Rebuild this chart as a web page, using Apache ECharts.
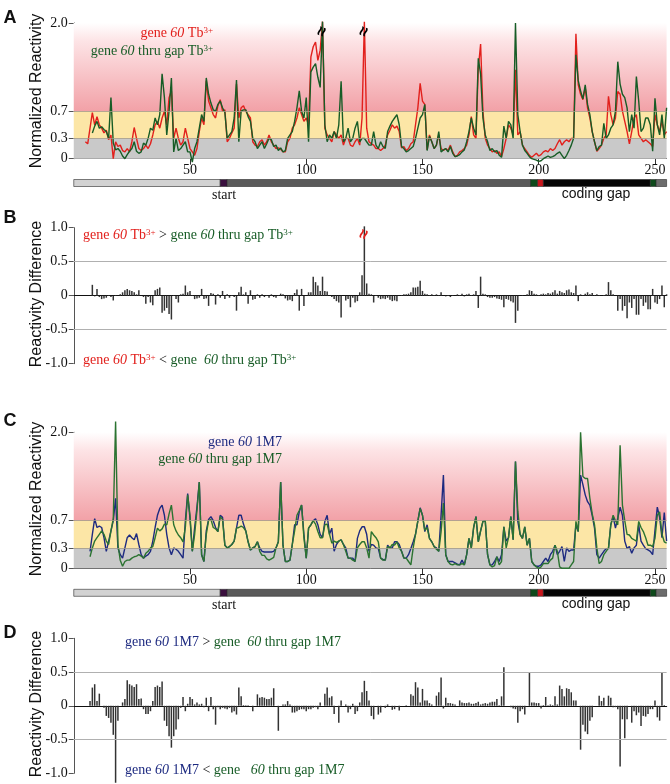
<!DOCTYPE html>
<html><head><meta charset="utf-8">
<script src="https://cdn.jsdelivr.net/npm/echarts@6/dist/echarts.min.js"></script>
<style>html,body{margin:0;padding:0;background:#fff}#c{width:670px;height:784px}</style>
</head><body><div id="c"></div>
<script>
// ---------- DATA ----------
const tbGene60Start = 5;
const tbGene60 = [
0.25,0.22,0.45,0.68,0.5,0.62,0.5,0.45,0.38,0.42,0.28,0.35,0.0,0.25,0.18,0.2,
0.12,0.1,0.15,0.1,0.25,0.46,0.3,0.15,0.12,0.15,0.2,0.15,0.22,0.35,0.5,0.55,0.45,0.6,0.7,0.5,
0.9,1.0,0.3,0.45,0.3,0.2,0.25,0.45,0.3,0.15,0.1,0.05,0.15,0.4,0.6,0.5,1.15,0.85,0.75,0.65,
0.6,0.78,0.87,0.7,0.72,0.25,0.3,0.38,0.45,1.1,0.6,0.75,0.78,0.7,0.65,0.6,0.25,0.2,0.18,0.25,
0.28,0.2,0.25,0.35,0.25,0.2,0.15,0.16,0.14,0.1,0.1,0.25,0.3,0.45,0.5,0.6,0.75,0.65,0.55,0.6,
0.5,1.5,1.65,1.72,1.45,1.6,2.02,0.45,0.35,0.3,0.25,0.4,0.35,0.3,0.35,0.2,0.3,0.3,0.2,0.18,
0.25,0.3,0.2,0.6,2.02,0.45,0.25,0.22,0.2,0.15,0.15,0.12,0.15,0.2,0.35,0.42,0.5,0.45,0.48,0.4,
0.16,0.18,0.12,0.15,0.22,0.25,0.5,0.75,1.11,0.85,0.8,0.13,0.35,0.25,0.15,0.2,0.35,0.15,0.12,0.15,
0.12,0.2,0.1,0.03,0.05,0.1,0.12,0.15,0.2,0.35,0.62,0.35,0.3,1.33,1.69,0.7,0.3,0.2,0.15,0.1,
0.12,0.08,0.1,0.03,0.15,0.3,0.5,0.45,0.35,1.31,0.35,0.4,0.2,0.15,0.1,0.05,0.02,0.05,0.08,0.04,
0.06,0.1,0.12,0.1,0.15,0.12,0.15,0.22,0.28,0.2,0.25,0.28,0.25,0.3,0.3,1.84,1.09,0.95,0.87,1.05,
0.75,0.6,0.4,0.25,0.11,0.15,0.2,0.3,0.35,0.92,0.65,0.5,0.6,0.99,0.95,0.7,0.55,0.4,0.22,0.4,
0.6,0.65,0.35,0.3,0.25,0.28,0.25,0.22,0.18,0.65,0.5,0.4,0.55,0.35,0.4];

const tbThruGapStart = 8;
const tbThruGap = [
0.38,0.48,0.55,0.45,0.47,0.43,0.4,0.3,0.9,0.23,0.13,0.15,0.11,
0.04,0.0,0.06,0.11,0.15,0.25,0.11,0.08,0.1,0.23,0.2,0.3,0.45,0.42,0.6,0.5,0.65,1.25,0.9,0.35,
0.7,1.19,0.1,0.3,0.12,0.15,0.2,0.25,0.1,0.1,-0.05,0.15,0.25,0.45,0.65,0.55,1.19,0.95,0.82,0.72,
0.7,0.8,0.85,0.75,0.68,0.3,0.35,0.4,0.6,1.16,0.25,0.7,0.72,0.72,0.62,0.55,0.3,0.25,0.15,0.2,
0.25,0.15,0.22,0.3,0.28,0.18,0.2,0.12,0.16,0.1,0.12,0.3,0.35,0.4,0.55,0.75,1.0,0.7,0.6,0.9,
0.25,1.28,1.35,1.4,1.2,1.05,2.02,0.5,0.25,0.35,0.3,0.4,0.3,0.5,1.14,0.25,0.3,0.45,0.25,0.3,
0.45,0.55,0.25,0.3,0.3,0.25,0.2,0.2,0.4,0.2,0.15,0.25,0.18,0.15,0.4,0.48,0.55,0.6,0.65,0.5,
0.18,0.15,0.1,0.12,0.15,0.18,0.3,0.45,0.6,0.65,0.8,0.12,0.33,0.25,0.15,0.2,0.4,0.1,0.13,0.15,
0.1,0.18,0.08,0.03,0.04,0.06,0.1,0.13,0.25,0.4,0.6,0.45,0.35,1.48,1.25,0.6,0.35,0.25,0.12,0.15,
0.1,0.12,0.05,0.02,0.48,0.3,0.55,0.5,0.3,2.0,0.65,0.4,0.2,0.12,0.08,0.03,0.0,-0.01,-0.02,-0.04,
-0.03,0.0,0.02,0.04,0.02,0.03,0.05,0.08,0.1,0.05,0.0,0.05,0.12,0.2,0.3,1.53,1.15,1.0,0.88,1.09,
0.8,0.65,0.4,0.25,0.12,0.18,0.2,0.52,0.3,0.35,0.45,0.5,0.7,1.43,1.1,0.95,0.9,0.75,0.4,0.65,
0.45,1.21,0.85,0.4,0.45,0.6,0.6,0.5,0.11,0.89,0.5,0.35,0.65,0.3,0.75];

const tbDiffStart = 8;
const tbDiff = [
0.16,-0.01,0.1,-0.02,-0.05,-0.04,-0.03,0.01,-0.02,-0.07,0.01,0.0,0.02,
0.05,0.08,0.1,0.08,0.07,0.05,0.02,0.08,0.0,-0.02,-0.12,-0.02,-0.1,-0.14,0.08,0.1,0.12,-0.25,-0.22,-0.18,
-0.27,-0.35,0.01,-0.05,-0.1,0.02,0.03,0.15,0.05,0.07,0.01,-0.05,-0.04,-0.03,0.1,-0.05,-0.04,-0.15,0.04,0.03,
-0.13,0.02,-0.03,0.07,-0.05,0.02,-0.03,0.01,-0.02,-0.22,0.05,0.13,0.02,0.05,-0.12,0.08,-0.06,-0.05,0.02,-0.03,
0.02,-0.02,0.01,-0.03,0.02,-0.02,-0.03,0.01,0.03,0.02,-0.04,-0.07,-0.06,-0.08,0.04,0.09,-0.22,0.1,-0.15,0.0,
0.05,0.05,0.28,0.2,0.15,0.07,0.28,0.07,0.06,0.0,-0.02,-0.05,-0.08,-0.1,-0.32,0.0,-0.07,-0.05,-0.17,-0.03,
-0.1,-0.08,0.05,0.3,1.02,0.18,0.03,0.02,-0.1,0.01,-0.03,-0.05,-0.04,-0.05,-0.03,-0.06,-0.08,-0.07,-0.08,0.0,
0.01,0.02,0.02,0.03,0.05,0.12,0.12,0.13,0.22,0.07,0.03,0.02,0.01,0.02,0.01,0.02,0.01,0.05,0.0,-0.01,
0.01,-0.02,0.01,0.0,0.02,0.01,0.03,-0.01,0.02,0.03,0.01,0.02,0.07,-0.18,0.28,0.03,0.02,-0.02,-0.03,-0.03,
-0.02,-0.04,-0.05,-0.06,-0.17,-0.05,-0.06,-0.08,-0.1,-0.4,-0.22,0.0,0.01,0.0,0.02,0.08,0.07,0.03,0.02,0.01,
0.02,0.03,0.02,0.04,0.03,0.05,0.08,0.03,0.07,0.05,0.04,0.08,0.09,0.05,0.04,0.15,-0.08,0.02,0.01,0.03,
0.05,0.02,0.04,0.01,0.02,0.01,0.0,0.01,0.02,0.2,0.08,0.02,0.0,-0.22,-0.05,-0.22,-0.15,-0.33,-0.1,-0.18,
-0.05,-0.28,-0.28,-0.05,-0.15,-0.1,-0.2,-0.2,0.1,-0.1,-0.12,-0.05,0.15,-0.17,0.02];

const m7Gene60Start = 7;
const m7Gene60 = [
0.25,0.5,0.73,0.6,0.62,0.6,0.45,0.25,0.4,0.55,0.7,1.03,0.3,0.2,
0.15,0.3,0.45,0.49,0.45,0.42,0.51,0.35,0.2,0.15,0.18,0.2,0.25,0.4,0.6,0.78,0.88,0.93,0.78,0.5,
0.3,0.2,0.3,0.28,0.25,0.2,0.15,0.7,1.1,0.73,0.25,0.6,0.9,1.27,0.2,0.1,0.55,0.72,0.76,0.7,
0.6,0.54,0.78,0.75,0.34,0.3,0.32,0.35,0.4,0.59,0.78,0.78,0.65,0.55,0.39,0.27,0.3,0.32,0.39,0.3,
0.25,0.24,0.24,0.24,0.24,0.25,0.3,0.39,1.27,0.34,0.1,0.1,0.12,0.35,0.64,0.64,0.83,0.93,0.5,0.15,
0.59,0.64,0.7,0.73,0.64,0.5,0.45,0.69,0.78,0.5,0.59,0.25,0.35,0.4,0.42,0.35,0.3,0.15,0.15,0.15,
0.1,0.44,0.55,0.61,0.61,0.5,0.25,0.35,0.34,0.3,0.29,0.15,0.13,0.12,0.34,0.3,0.3,0.39,0.39,0.35,
0.25,0.15,0.15,0.2,0.29,0.39,0.5,0.69,0.89,0.78,0.54,0.64,0.44,0.39,0.32,0.3,0.25,0.78,1.37,0.2,
0.1,0.1,0.1,0.08,0.06,0.05,0.12,0.05,0.2,0.44,0.3,0.6,0.76,0.39,0.55,0.69,0.7,0.2,0.05,0.05,
0.1,0.17,0.1,0.2,0.61,0.4,0.45,0.76,0.42,1.57,0.69,0.5,0.44,0.61,0.34,0.44,0.1,0.05,0.03,0.03,
0.05,0.1,0.15,0.1,0.2,0.25,0.34,0.2,0.25,0.32,0.1,0.3,0.25,0.27,0.27,0.64,0.54,1.37,1.23,1.08,
0.98,0.93,0.78,0.59,0.2,0.15,0.2,0.25,0.29,0.29,0.64,0.76,0.59,0.74,0.9,0.78,0.4,0.29,0.32,0.22,
0.3,0.34,0.64,0.4,0.34,0.29,0.27,0.25,0.2,0.56,0.9,0.75,0.45,0.82,0.4];

const m7ThruGapStart = 7;
const m7ThruGap = [
0.17,0.3,0.4,0.45,0.5,0.55,0.5,0.4,0.35,0.55,0.73,2.16,0.35,0.12,
0.03,0.1,0.12,0.12,0.15,0.17,0.18,0.2,0.18,0.15,0.22,0.25,0.3,0.32,0.45,0.59,0.55,0.58,0.65,0.64,
0.8,0.93,0.64,0.55,0.49,0.45,0.39,0.6,1.08,0.78,0.25,0.5,0.85,1.27,0.2,0.1,0.5,0.7,0.72,0.6,
0.58,0.54,0.76,0.72,0.34,0.3,0.32,0.35,0.4,0.59,0.6,0.62,0.6,0.55,0.39,0.27,0.3,0.32,0.39,0.25,
0.19,0.19,0.14,0.12,0.14,0.16,0.3,0.39,1.27,0.34,0.1,0.1,0.12,0.35,0.55,0.78,0.85,0.93,0.45,0.15,
0.59,0.64,0.7,0.65,0.54,0.45,0.45,0.64,0.65,0.5,0.37,0.4,0.38,0.4,0.42,0.35,0.25,0.15,0.15,0.12,
0.1,0.3,0.35,0.39,0.39,0.3,0.15,0.54,0.49,0.45,0.39,0.15,0.12,0.12,0.32,0.3,0.35,0.34,0.39,0.3,
0.25,0.15,0.15,0.1,0.05,0.3,0.5,0.7,0.88,0.78,0.56,0.6,0.44,0.39,0.32,0.28,0.25,0.54,0.96,0.2,
0.1,0.06,0.05,0.07,0.05,0.05,0.07,0.05,0.2,0.44,0.3,0.6,0.76,0.39,0.55,0.69,0.7,0.2,0.05,0.02,
0.04,0.17,0.05,0.1,0.61,0.3,0.45,0.76,0.42,1.57,0.84,0.5,0.44,0.61,0.34,0.44,0.1,0.05,0.02,0.0,
0.02,0.07,0.07,0.07,0.12,0.15,0.34,0.25,0.02,0.0,0.0,0.0,0.0,0.05,0.1,0.69,0.54,2.0,1.35,1.32,
1.32,1.03,0.8,0.64,0.3,0.07,0.1,0.2,0.25,0.3,0.64,0.78,0.7,0.64,1.81,0.93,0.7,0.5,0.49,0.44,
0.42,0.4,0.69,0.6,0.54,0.45,0.34,0.34,0.32,0.44,0.78,0.83,0.5,0.39,0.37];

const m7DiffStart = 7;
const m7Diff = [
0.07,0.27,0.32,0.07,0.18,0.0,-0.03,-0.15,-0.18,-0.25,-0.43,-1.14,-0.22,0.0,
0.05,0.1,0.38,0.32,0.3,0.28,0.32,0.1,0.11,-0.05,-0.12,-0.12,-0.08,0.07,0.28,0.3,0.28,0.36,-0.22,-0.3,
-0.45,-0.62,-0.45,-0.35,-0.2,-0.03,0.13,-0.08,0.03,0.13,0.1,0.02,0.05,0.02,0.03,-0.02,0.12,-0.08,0.13,-0.05,
-0.28,-0.02,-0.05,-0.03,-0.04,-0.05,-0.03,-0.1,-0.08,-0.13,0.27,0.14,0.01,0.01,0.01,0.0,-0.08,0.0,0.17,0.12,
0.13,0.12,0.1,0.1,0.12,0.26,0.0,-0.37,0.0,0.02,0.02,0.07,0.02,-0.1,-0.1,-0.08,-0.06,-0.05,-0.05,-0.08,
-0.05,-0.05,-0.03,-0.02,-0.05,0.05,0.0,0.18,0.27,0.12,0.14,-0.12,0.0,-0.25,0.08,0.0,0.02,-0.1,-0.05,0.03,
-0.12,-0.08,0.05,0.2,0.37,0.22,0.08,-0.15,-0.2,0.0,-0.13,-0.1,0.0,-0.03,0.02,0.0,-0.06,-0.05,0.0,-0.07,
0.0,0.0,0.01,0.0,0.17,0.15,0.35,0.27,0.05,0.25,0.08,0.08,0.04,0.02,0.0,0.15,0.2,0.42,-0.04,0.12,
0.04,0.04,0.03,0.02,0.0,0.08,0.05,0.04,0.04,0.05,0.03,0.03,0.04,0.06,0.02,0.03,0.04,0.03,0.05,0.06,
0.06,0.1,0.01,0.14,0.57,0.0,0.0,-0.02,-0.04,-0.05,-0.25,-0.08,-0.05,-0.13,0.0,0.5,0.05,0.05,0.04,0.04,
-0.04,0.01,0.13,0.01,0.02,0.01,0.14,0.02,0.3,0.25,0.14,0.26,0.25,0.2,0.08,0.08,0.0,-0.65,-0.28,-0.38,
-0.42,-0.22,-0.17,0.0,0.0,0.15,0.07,0.12,0.0,0.15,0.12,-0.02,-0.02,-0.05,-0.9,-0.2,-0.48,-0.2,0.0,-0.25,
-0.08,-0.14,-0.1,-0.3,-0.15,-0.16,-0.12,-0.05,-0.05,0.08,-0.17,-0.22,0.49,0.01,0.0];

const reactTicks = [0, 0.3, 0.7, 2.0];
const diffTicks = [-1, -0.5, 0, 0.5, 1];
const posTicks = [50, 100, 150, 200, 250];
const posMin = 0, posMax = 255;
const segStart = [0, 63, 66, 196.5, 199.5, 202, 248, 250.5];
const segEnd   = [63, 66, 196.5, 199.5, 202, 248, 250.5, 255];
const segKind  = ['utr', 'start', 'cds', 'edge', 'stop', 'gap', 'edge', 'tail'];
const breakTb = [107, 125];
const breakTbDiff = [125];

// ---------- STYLES ----------
const segColor = {utr:'#d2d2d2', start:'#3a0f3e', cds:'#5a5a5a', edge:'#0e4a1b', stop:'#c8161c', gap:'#050505', tail:'#6c6c6c'};
const RED = '#e2201c', DKGREEN = '#175c26', NAVY = '#1d2a80', GREEN2 = '#2b7331';
const SERIF = '"Liberation Serif", "DejaVu Serif", serif';
const SANS = '"Liberation Sans", Arial, sans-serif';
const L = 73.75, R = 3.4;

const pairs = (start, arr) => arr.map((v, i) => [start + i, v]);

function reactAxisY(idx) {
  return {gridIndex: idx, type:'value', min:0, max:2,
    axisLine:{show:true, lineStyle:{color:'#555', width:1}},
    axisTick:{show:true, customValues: reactTicks, length:5, lineStyle:{color:'#555'}},
    axisLabel:{customValues: reactTicks, formatter: v => v === 0 ? '0' : v.toFixed(1), fontFamily: SERIF, fontSize:14, color:'#111', margin:6},
    splitLine:{show:false}};
}
function diffAxisY(idx) {
  return {gridIndex: idx, type:'value', min:-1, max:1, interval:0.5,
    axisLine:{show:true, lineStyle:{color:'#555', width:1}},
    axisTick:{show:true, length:5, lineStyle:{color:'#555'}},
    axisLabel:{formatter: v => v === 0 ? '0' : v.toFixed(1), fontFamily: SERIF, fontSize:14, color:'#111', margin:6},
    splitLine:{show:false}};
}
function posAxisX(idx, labels) {
  return {gridIndex: idx, type:'value', min:posMin, max:posMax,
    axisLine:{show:true, onZero:true, lineStyle:{color: labels ? '#555' : '#111', width: labels ? 1 : 1.2}},
    axisTick:{show:labels, customValues: posTicks, length:6, lineStyle:{color:'#333'}},
    axisLabel:{show:labels, customValues: posTicks, fontFamily: SERIF, fontSize:14, color:'#111', margin:5},
    splitLine:{show:false}};
}
function geneX(idx) { return {gridIndex: idx, type:'value', min:posMin, max:posMax, show:false}; }
function geneY(idx) { return {gridIndex: idx, type:'value', min:0, max:1, show:false}; }

const redGrad = new echarts.graphic.LinearGradient(0, 0, 0, 1, [
  {offset:0, color:'#ffffff'}, {offset:0.2, color:'#fde4e6'}, {offset:1, color:'#f2a1a7'}]);

function bands() {
  return {silent:true, data:[
    [{yAxis:0, itemStyle:{color:'#c9c9c9'}}, {yAxis:0.3}],
    [{yAxis:0.3, itemStyle:{color:'#fce6a6'}}, {yAxis:0.7}],
    [{yAxis:0.7, itemStyle:{color:redGrad}}, {yAxis:2}]]};
}
function bandLines() {
  return {silent:true, symbol:['none','none'], label:{show:false},
    lineStyle:{type:'solid', width:0.8, color:'#a39a88'}, data:[{yAxis:0.3}, {yAxis:0.7}]};
}
function halfLines() {
  return {silent:true, symbol:['none','none'], label:{show:false},
    lineStyle:{type:'solid', width:1, color:'#b0b0b0'}, data:[{yAxis:0.5}, {yAxis:-0.5}]};
}
function lineSeries(name, xi, data, color, extra) {
  return Object.assign({name, type:'line', xAxisIndex:xi, yAxisIndex:xi, data, showSymbol:false,
    clip:false, lineStyle:{color, width:1.4}, itemStyle:{color}, z:3, animation:false}, extra || {});
}
function barSeries(xi, data, extra) {
  return Object.assign({type:'bar', xAxisIndex:xi, yAxisIndex:xi, data, barWidth:1.5, clip:false,
    itemStyle:{color:'#333'}, animation:false, markLine: halfLines()}, extra || {});
}
function geneSeries(xi) {
  return {type:'custom', xAxisIndex:xi, yAxisIndex:xi, animation:false, silent:true,
    data: segStart.map((s, i) => [s, segEnd[i], i]),
    encode:{x:[0,1]},
    renderItem: (params, api) => {
      const p0 = api.coord([api.value(0), 1]);
      const p1 = api.coord([api.value(1), 0]);
      return {type:'rect', shape:{x:p0[0], y:p0[1], width:p1[0]-p0[0], height:p1[1]-p0[1]},
        style:{fill: segColor[segKind[api.value(2)]], stroke:'#2a2a2a', lineWidth:0.6}};
    }};
}
function breakMarks(xs, yv, color) {
  return {symbol:'circle', symbolSize:1, itemStyle:{color:'rgba(0,0,0,0)'}, silent:true,
    label:{show:true, formatter:'≈', color, fontSize:17, fontWeight:'bold', rotate:70, position:'inside'},
    data: xs.map(x => ({coord:[x, yv]}))};
}

// rich text helpers
const COL = {r: RED, g: DKGREEN, b: NAVY, k: '#111'};
const rs = (c) => ({
  [c+'n']: {fill: COL[c], font: '14px ' + SERIF},
  [c+'i']: {fill: COL[c], font: 'italic 14px ' + SERIF},
  [c+'s']: {fill: COL[c], font: '9px ' + SERIF, verticalAlign:'top'}
});
const RICH = Object.assign({}, rs('r'), rs('g'), rs('b'), rs('k'));
function rtext(x, y, text, align) {
  return {type:'text', x, y, z:100, silent:true, style:{text, rich: RICH, font:'14px ' + SERIF, fill:'#111',
    textAlign: align || 'left', textVerticalAlign:'middle'}};
}
function plain(x, y, text, font, align, rot) {
  return {type:'text', x, y, z:100, rotation: rot || 0, silent:true,
    style:{text, font, fill:'#111', textAlign: align || 'center', textVerticalAlign:'middle'}};
}

const chart = echarts.init(document.getElementById('c'), null, {renderer:'canvas'});
chart.setOption({
  animation:false,
  backgroundColor:'#fff',
  grid:[
    {left:L, right:R, top:23, height:135.7},
    {left:L, right:R, top:179.5, height:7},
    {left:L, right:R, top:227.7, height:136},
    {left:L, right:R, top:432.3, height:136},
    {left:L, right:R, top:589.3, height:7},
    {left:L, right:R, top:638.3, height:135}
  ],
  xAxis:[posAxisX(0, true), geneX(1), posAxisX(2, false), posAxisX(3, true), geneX(4), posAxisX(5, false)],
  yAxis:[reactAxisY(0), geneY(1), diffAxisY(2), reactAxisY(3), geneY(4), diffAxisY(5)],
  series:[
    lineSeries('gene 60 Tb', 0, pairs(tbGene60Start, tbGene60), RED,
      {markArea: bands(), markLine: bandLines(), z:2}),
    lineSeries('gene 60 thru gap Tb', 0, pairs(tbThruGapStart, tbThruGap), DKGREEN,
      {markPoint: breakMarks(breakTb, 1.87, '#000')}),
    geneSeries(1),
    barSeries(2, pairs(tbDiffStart, tbDiff), {markPoint: breakMarks(breakTbDiff, 0.9, RED)}),
    lineSeries('gene 60 1M7', 3, pairs(m7Gene60Start, m7Gene60), NAVY,
      {markArea: bands(), markLine: bandLines(), z:2}),
    lineSeries('gene 60 thru gap 1M7', 3, pairs(m7ThruGapStart, m7ThruGap), GREEN2),
    geneSeries(4),
    barSeries(5, pairs(m7DiffStart, m7Diff))
  ],
  graphic:[
    plain(10, 18, 'A', 'bold 18px ' + SANS),
    plain(10, 218, 'B', 'bold 18px ' + SANS),
    plain(10, 421, 'C', 'bold 18px ' + SANS),
    plain(10, 633, 'D', 'bold 18px ' + SANS),
    plain(37, 91, 'Normalized Reactivity', '16px ' + SANS, 'center', Math.PI/2),
    plain(37, 294, 'Reactivity Difference', '16px ' + SANS, 'center', Math.PI/2),
    plain(37, 499, 'Normalized Reactivity', '16px ' + SANS, 'center', Math.PI/2),
    plain(37, 704, 'Reactivity Difference', '16px ' + SANS, 'center', Math.PI/2),
    plain(224, 195, 'start', '14px ' + SERIF),
    plain(596, 194, 'coding gap', '14px ' + SANS),
    plain(224, 605, 'start', '14px ' + SERIF),
    plain(596, 604, 'coding gap', '14px ' + SANS),
    rtext(213, 33, '{rn|gene }{ri|60}{rn| Tb}{rs|3+}', 'right'),
    rtext(213, 51, '{gn|gene }{gi|60}{gn| thru gap Tb}{gs|3+}', 'right'),
    rtext(83, 235, '{rn|gene }{ri|60}{rn| Tb}{rs|3+}{kn| > }{gn|gene }{gi|60}{gn| thru gap Tb}{gs|3+}'),
    rtext(83, 360, '{rn|gene }{ri|60}{rn| Tb}{rs|3+}{kn| < }{gn|gene  }{gi|60}{gn| thru gap Tb}{gs|3+}'),
    rtext(282, 442, '{bn|gene }{bi|60}{bn| 1M7}', 'right'),
    rtext(282, 459, '{gn|gene }{gi|60}{gn| thru gap 1M7}', 'right'),
    rtext(125, 642, '{bn|gene }{bi|60}{bn| 1M7}{kn| > }{gn|gene  }{gi|60}{gn| thru gap 1M7}'),
    rtext(125, 770, '{bn|gene }{bi|60}{bn| 1M7}{kn| < }{gn|gene   }{gi|60}{gn| thru gap 1M7}')
  ]
});
</script>
</body></html>
